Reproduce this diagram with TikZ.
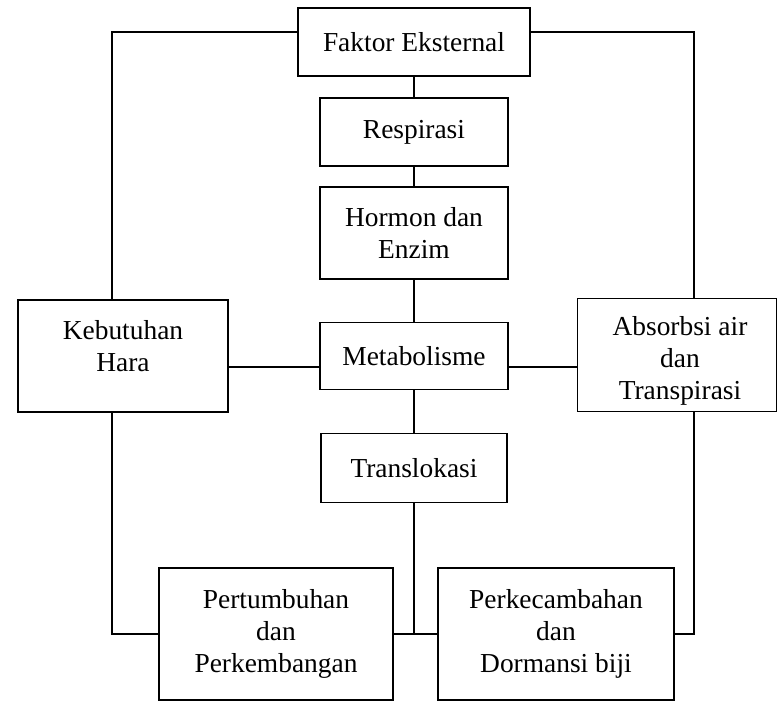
\documentclass[tikz,border=0pt]{standalone}
\usepackage{fontspec}
\setmainfont{Liberation Serif}
\tikzset{box/.style={draw, line width=1.2pt, align=center, inner sep=0pt, font=\fontsize{19.5}{23}\selectfont},
  txt/.style={align=center, inner sep=0pt, font=\fontsize{19.5}{23}\selectfont}}
\begin{document}
\begin{tikzpicture}[x=0.025cm, y=-0.025cm, line width=1.2pt]
\useasboundingbox (0,0) rectangle (778,702);
\def\mid{414}
\def\lx{112}
\def\rx{694}
\def\ty{32}
\def\by{634}
\node[box, minimum width=5.8cm, minimum height=1.7cm] (fakt) at (\mid, 42) {Faktor Eksternal};
\node[box, minimum width=4.7cm, minimum height=1.7cm] (resp) at (\mid, 132) {Respirasi};
\node[box, minimum width=4.7cm, minimum height=2.3cm] (horm) at (\mid, 233) {Hormon dan\\Enzim};
\node[box, minimum width=4.7cm, minimum height=1.675cm] (meta) at (\mid, 356) {Metabolisme};
\node[box, minimum width=4.65cm, minimum height=1.725cm] (trans) at (\mid, 468) {Translokasi};
\node[box, minimum width=5.25cm, minimum height=2.8cm] (keb) at (123, 356) {};
\node[txt] (kebtext) at (123, 346) {Kebutuhan\\Hara};
\node[box, minimum width=4.975cm, minimum height=2.825cm] (abs) at (677, 355) {};
\node[txt] (abstext) at (680, 361) {Absorbsi air\\dan\\Transpirasi};
\node[box, minimum width=5.85cm, minimum height=3.3cm] (pert) at (276, \by) {Pertumbuhan\\dan\\Perkembangan};
\node[box, minimum width=5.9cm, minimum height=3.3cm] (perk) at (556, \by) {Perkecambahan\\dan\\Dormansi biji};
\coordinate (tl) at (\lx, \ty);
\coordinate (tr) at (\rx, \ty);
\coordinate (bl) at (\lx, \by);
\coordinate (br) at (\rx, \by);
\coordinate (my) at (\mid, 367);

% edges
\draw (fakt.south) -- (resp.north); % middle column
\draw (resp.south) -- (horm.north);
\draw (horm.south) -- (meta.north);
\draw (meta.south) -- (trans.north);
\draw (trans.south) -- (trans.south |- pert.east);
\draw (pert.east) -- (perk.west);
\draw (my -| keb.east) -- (my -| meta.west); % across
\draw (my -| meta.east) -- (my -| abs.west);
\draw (tl -| fakt.west) -- (tl) -- (tl |- keb.north); % left side
\draw (tl |- keb.south) -- (bl) -- (pert.west);
\draw (tr -| fakt.east) -- (tr) -- (tr |- abs.north); % right side
\draw (tr |- abs.south) -- (br) -- (perk.east);
\end{tikzpicture}
\end{document}
